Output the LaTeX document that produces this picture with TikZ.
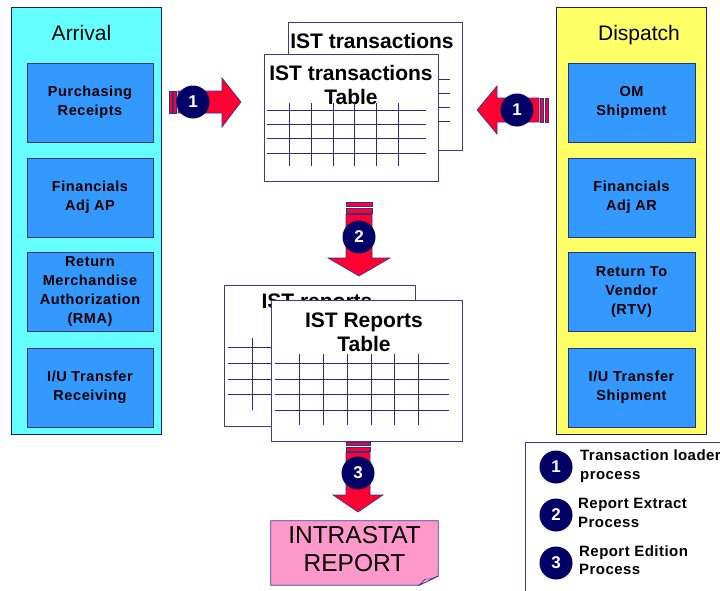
\documentclass[tikz,border=0pt]{standalone}
\usepackage{fontspec}
\setmainfont{Liberation Sans}
\usetikzlibrary{calc}
\definecolor{arrfill}{HTML}{66FFFF}
\definecolor{dspfill}{HTML}{FFFF66}
\definecolor{procblue}{HTML}{3399FF}
\definecolor{panelline}{HTML}{1A1A80}
\definecolor{boxline}{HTML}{26337F}
\definecolor{docline}{HTML}{3A3A8F}
\definecolor{gridline}{HTML}{2A2A80}
\definecolor{flowred}{HTML}{FF0033}
\definecolor{flowline}{HTML}{33338A}
\definecolor{badge}{HTML}{000066}
\definecolor{reportpink}{HTML}{FF99CC}
\definecolor{foldpink}{HTML}{E8B8D0}
\begin{document}
\begin{tikzpicture}[x=1pt,y=-1pt,
  panel/.style={draw=panelline,line width=0.9pt,minimum width=150pt,minimum height=427pt,inner sep=0pt},
  paneltitle/.style={anchor=base,font=\fontsize{21}{24}\selectfont,inner sep=0pt},
  procbox/.style={draw=boxline,fill=procblue,line width=1pt,minimum width=126pt,minimum height=79pt,
    align=center,inner sep=0pt,font=\fontsize{14.5}{19}\selectfont\bfseries\addfontfeature{LetterSpace=4}},
  docpage/.style={draw=docline,fill=white,line width=1pt,inner sep=0pt},
  doctitle/.style={align=center,inner sep=0pt,font=\fontsize{21}{24.5}\selectfont\bfseries},
  gridrule/.style={draw=gridline,line width=0.9pt},
  flow/.style={fill=flowred,draw=flowline,line width=0.6pt},
  badgedot/.style={circle,fill=badge,minimum size=33pt,inner sep=0pt,text=white,
    font=\fontsize{17}{17}\selectfont\bfseries},
  legendtext/.style={anchor=west,align=left,inner sep=0pt,
    font=\fontsize{15}{18.5}\selectfont\bfseries\addfontfeature{LetterSpace=3}}]
\useasboundingbox (0,0) rectangle (720,590);
\fill[white] (0,0) rectangle (720,590);

% ---------- Arrival panel ----------
\node[panel,fill=arrfill] (arrival) at (86,220.5) {};
\node[paneltitle] (arrtitle) at (81.5,40) {Arrival};
\node[procbox] (pr) at (90,102.5) {Purchasing\\Receipts};
\node[procbox] (fap) at (90,197.5) {Financials\\Adj AP};
\node[procbox] (rma) at (90,292) {Return\\Merchandise\\Authorization\\(RMA)};
\node[procbox] (iur) at (90,387.5) {I/U Transfer\\Receiving};

% ---------- Dispatch panel ----------
\node[panel,fill=dspfill] (dispatch) at (631,220.5) {};
\node[paneltitle] (dsptitle) at (639,40) {Dispatch};
\node[procbox,minimum width=127pt] (om) at (631.5,102.5) {OM\\Shipment};
\node[procbox,minimum width=127pt] (far) at (631.5,197.5) {Financials\\Adj AR};
\node[procbox,minimum width=127pt] (rtv) at (631.5,292) {Return To\\Vendor\\(RTV)};
\node[procbox,minimum width=127pt] (ius) at (631.5,387.5) {I/U Transfer\\Shipment};

% ---------- IST transactions tables ----------
\node[docpage,minimum width=174pt,minimum height=128pt] (transback) at (375,86) {};
\node[doctitle] (transbacktitle) at (372,41) {IST transactions};
\foreach \yy in {79,93,107,121} \draw[gridrule] (291,\yy) -- (450,\yy);
\node[docpage,minimum width=174pt,minimum height=127pt] (trans) at (351,117.5) {};
\node[doctitle] (transtitle) at (351,85) {IST transactions\\Table};
\foreach \yy in {110,124,138,153} \draw[gridrule] (267,\yy) -- (426,\yy);
\foreach \xx in {289,311,333,354,376,398} \draw[gridrule] (\xx,103) -- (\xx,166);

% ---------- IST reports tables ----------
\node[docpage,minimum width=191pt,minimum height=141pt] (repback) at (319.5,355.5) {};
\node[doctitle] (repbacktitle) at (317,303) {IST reports};
\foreach \yy in {347,363,379,394} \draw[gridrule] (228,\yy) -- (300,\yy);
\draw[gridrule] (252,338) -- (252,410);
\node[docpage,minimum width=191pt,minimum height=141pt] (rep) at (366.5,370.5) {};
\node[doctitle,text depth=0pt] (reptitle) at (364,332) {IST Reports\\Table};
\foreach \yy in {363,379,394,410} \draw[gridrule] (275,\yy) -- (449,\yy);
\foreach \xx in {299,323,347,371,394,418} \draw[gridrule] (\xx,354) -- (\xx,425);

% ---------- Intrastat report with a folded corner ----------
\node[minimum width=167pt,minimum height=64pt,inner sep=0pt] (intra) at (354.5,553) {};
\path[fill=reportpink,draw=docline,line width=0.8pt]
  (intra.north west) -- (intra.north east) -- ($(intra.south east)+(0,-9)$)
  -- ($(intra.south east)+(-19,0)$) -- (intra.south west) -- cycle;
\path[fill=foldpink,draw=docline,line width=0.6pt]
  ($(intra.south east)+(0,-9)$) .. controls ($(intra.south east)+(-8,-6)$) .. ($(intra.south east)+(-13,-6)$)
  -- ($(intra.south east)+(-19,0)$) -- cycle;
\node[align=center,inner sep=0pt,font=\fontsize{24.5}{28}\selectfont] (intratext) at (354.5,549) {INTRASTAT\\REPORT};

% ---------- Process 1: Arrival -> transactions ----------
\path[flow] (169,91) rectangle (172,113);
\path[flow] (173.5,91) rectangle (176.5,113);
\path[flow] (178,91) -- (222,91) -- (222,78) -- (241,102) -- (222,127) -- (222,113) -- (178,113) -- cycle;
\node[badgedot] (p1a) at (193,102) {1};

% ---------- Process 1: Dispatch -> transactions ----------
\path[flow] (548,98) rectangle (545,122);
\path[flow] (543.5,98) rectangle (540.5,122);
\path[flow] (539,98) -- (497,98) -- (497,86) -- (477,110) -- (497,134) -- (497,122) -- (539,122) -- cycle;
\node[badgedot] (p1b) at (517,110) {1};

% ---------- Process 2: transactions -> reports ----------
\path[flow] (346,202) rectangle (372,206);
\path[flow] (346,208) rectangle (372,213);
\path[flow] (346,214.5) -- (372,214.5) -- (372,258) -- (390,258) -- (359,276) -- (328,258) -- (346,258) -- cycle;
\node[badgedot] (p2) at (359,237) {2};

% ---------- Process 3: reports -> Intrastat report ----------
\path[flow] (346,442) rectangle (370,445.5);
\path[flow] (346,447) rectangle (370,451);
\path[flow] (346,452.5) -- (370,452.5) -- (370,495) -- (383,495) -- (358,512) -- (333,495) -- (346,495) -- cycle;
\node[badgedot] (p3) at (358,473) {3};

% ---------- Legend ----------
\draw[draw=docline,line width=0.9pt] (525,442) rectangle (740,610);
\node[badgedot] (lg1) at (556,467) {1};
\node[badgedot] (lg2) at (556,515) {2};
\node[badgedot] (lg3) at (556,563) {3};
\node[legendtext] (lt1) at (580,466) {Transaction loader\\process};
\node[legendtext] (lt2) at (578,513) {Report Extract\\Process};
\node[legendtext] (lt3) at (579,560) {Report Edition\\Process};
\end{tikzpicture}
\end{document}
